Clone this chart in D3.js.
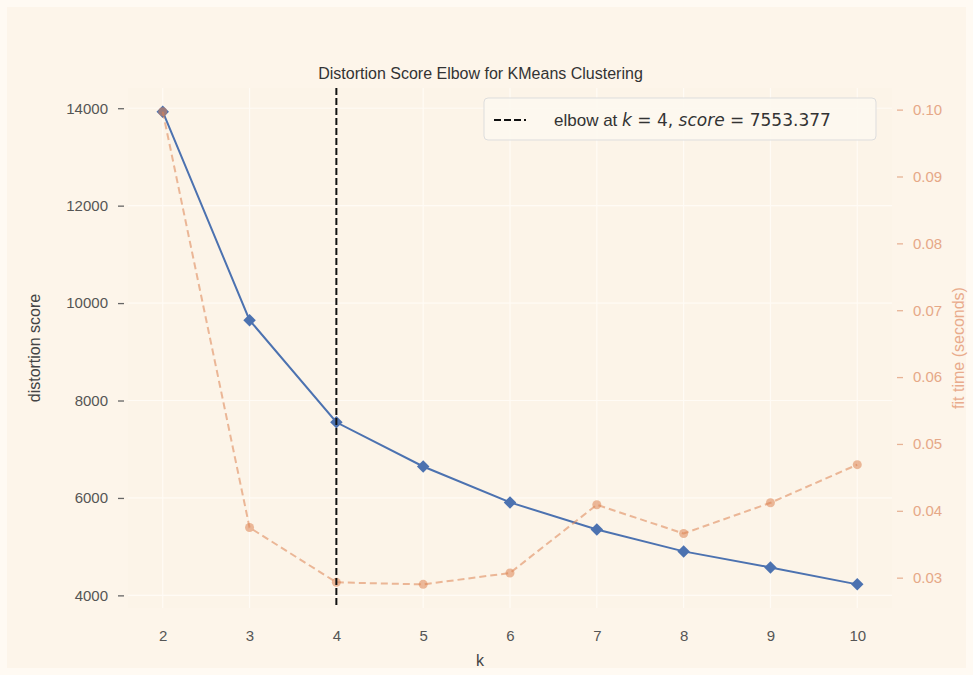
<!DOCTYPE html>
<html>
<head>
<meta charset="utf-8">
<script src="https://cdn.jsdelivr.net/npm/d3@7"></script>
<style>
  html, body { margin: 0; padding: 0; background: #fffaf3; }
  svg { display: block; font-family: "Liberation Sans", Arial, sans-serif; }
</style>
</head>
<body>
<div id="chart"></div>
<script>
// Elbow-Daten
const kValues = [2, 3, 4, 5, 6, 7, 8, 9, 10];
const distortion = [13930, 9650, 7553.377, 6646, 5908, 5354, 4903, 4574, 4226];
const fitTime = [0.0997, 0.0375, 0.0293, 0.0290, 0.0307, 0.0409, 0.0366, 0.0412, 0.0469];
const leftTicks = [4000, 6000, 8000, 10000, 12000, 14000];
const rightTicks = [0.03, 0.04, 0.05, 0.06, 0.07, 0.08, 0.09, 0.10];
const elbowK = 4;
const elbowScore = 7553.377;

const W = 973, H = 675;
const M = { top: 88, right: 81, bottom: 67, left: 128 };

const svg = d3.select("#chart").append("svg")
  .attr("width", W)
  .attr("height", H);

// Hintergrund
svg.append("rect").attr("x", 7).attr("y", 7).attr("width", W - 14).attr("height", H - 14)
  .attr("fill", "#fdf5ea");
svg.append("rect").attr("x", M.left).attr("y", M.top)
  .attr("width", W - M.left - M.right).attr("height", H - M.top - M.bottom)
  .attr("fill", "#fcf4e8");

// Skalen mit 5% Rand wie matplotlib
function padded(ext) {
  const p = (ext[1] - ext[0]) * 0.05;
  return [ext[0] - p, ext[1] + p];
}
const x = d3.scaleLinear().domain(padded(d3.extent(kValues))).range([M.left, W - M.right]);
const yL = d3.scaleLinear().domain(padded(d3.extent(distortion))).range([H - M.bottom, M.top]);
const yR = d3.scaleLinear().domain(padded(d3.extent(fitTime))).range([H - M.bottom, M.top]);

// Gitter
const gGrid = svg.append("g");
gGrid.selectAll(".gx").data(kValues).join("line")
  .attr("x1", d => x(d)).attr("x2", d => x(d))
  .attr("y1", M.top).attr("y2", H - M.bottom)
  .attr("stroke", "#fffbf5").attr("stroke-width", 1.2);
gGrid.selectAll(".gy").data(leftTicks).join("line")
  .attr("x1", M.left).attr("x2", W - M.right)
  .attr("y1", d => yL(d)).attr("y2", d => yL(d))
  .attr("stroke", "#fffbf5").attr("stroke-width", 1.2);

// Achsen
const axisLeft = svg.append("g")
  .attr("transform", `translate(${M.left - 4},0)`)
  .call(d3.axisLeft(yL).tickValues(leftTicks).tickSize(6).tickPadding(10).tickFormat(d3.format("d")));
axisLeft.select(".domain").remove();
axisLeft.selectAll(".tick line").attr("stroke", "#666").attr("stroke-width", 1.3);
axisLeft.selectAll(".tick text").style("font-size", "15px").style("fill", "#555");

const axisRight = svg.append("g")
  .attr("transform", `translate(${W - M.right + 5},0)`)
  .call(d3.axisRight(yR).tickValues(rightTicks).tickSize(6).tickPadding(10).tickFormat(d3.format(".2f")));
axisRight.select(".domain").remove();
axisRight.selectAll(".tick line").attr("stroke", "#e7b396").attr("stroke-width", 1.3);
axisRight.selectAll(".tick text").style("font-size", "15px").style("fill", "#e6a887");

const axisBottom = svg.append("g")
  .attr("transform", `translate(0,${H - M.bottom})`)
  .call(d3.axisBottom(x).tickValues(kValues).tickSize(0).tickPadding(22).tickFormat(d3.format("d")));
axisBottom.select(".domain").remove();
axisBottom.selectAll(".tick text").style("font-size", "15px").style("fill", "#555");

// Achsentitel
svg.append("text")
  .attr("x", W / 2 - 6).attr("y", 79)
  .attr("text-anchor", "middle")
  .style("font-size", "16px").style("fill", "#333")
  .text("Distortion Score Elbow for KMeans Clustering");

svg.append("text")
  .attr("x", x(6) - 30).attr("y", 666)
  .attr("text-anchor", "middle")
  .style("font-size", "16px").style("fill", "#444")
  .text("k");

svg.append("text")
  .attr("transform", `translate(40,${(M.top + H - M.bottom) / 2}) rotate(-90)`)
  .attr("text-anchor", "middle")
  .style("font-size", "16px").style("fill", "#444")
  .text("distortion score");

svg.append("text")
  .attr("transform", `translate(964,${(M.top + H - M.bottom) / 2}) rotate(-90)`)
  .attr("text-anchor", "middle")
  .style("font-size", "16px").style("fill", "#e9ab8c")
  .text("fit time (seconds)");

// Verzerrung (blau)
const pts = kValues.map((k, i) => ({ k, d: distortion[i], t: fitTime[i] }));

svg.append("path")
  .datum(pts)
  .attr("fill", "none")
  .attr("stroke", "#4c72b0")
  .attr("stroke-width", 2)
  .attr("d", d3.line().x(d => x(d.k)).y(d => yL(d.d)));

svg.selectAll(".dmark").data(pts).join("path")
  .attr("transform", d => `translate(${x(d.k)},${yL(d.d)}) rotate(45)`)
  .attr("d", d3.symbol(d3.symbolSquare, 78)())
  .attr("fill", "#4c72b0");

// Fit-Zeit (orange, gestrichelt)
svg.append("path")
  .datum(pts)
  .attr("fill", "none")
  .attr("stroke", "#dd8452")
  .attr("stroke-opacity", 0.55)
  .attr("stroke-width", 2)
  .attr("stroke-dasharray", "7,4")
  .attr("d", d3.line().x(d => x(d.k)).y(d => yR(d.t)));

svg.selectAll(".tmark").data(pts).join("circle")
  .attr("cx", d => x(d.k)).attr("cy", d => yR(d.t))
  .attr("r", 4.5)
  .attr("fill", "#dd8452")
  .attr("fill-opacity", 0.55);

// Elbow-Linie
svg.append("line")
  .attr("x1", x(elbowK)).attr("x2", x(elbowK))
  .attr("y1", M.top).attr("y2", H - M.bottom)
  .attr("stroke", "#111")
  .attr("stroke-width", 2)
  .attr("stroke-dasharray", "7,3");

// Legende
const lg = svg.append("g").attr("transform", "translate(484,98)");
lg.append("rect")
  .attr("width", 392).attr("height", 42).attr("rx", 4)
  .attr("fill", "#fdf8f0").attr("fill-opacity", 0.9)
  .attr("stroke", "#ddd").attr("stroke-width", 1);
lg.append("line")
  .attr("x1", 10).attr("x2", 42).attr("y1", 22).attr("y2", 22)
  .attr("stroke", "#111").attr("stroke-width", 2).attr("stroke-dasharray", "7,3");
const lt = lg.append("text")
  .attr("x", 70).attr("y", 28)
  .style("font-size", "17px").style("fill", "#333");
lt.append("tspan").text("elbow at ");
lt.append("tspan").style("font-style", "italic").style("font-family", "DejaVu Sans").text("k");
lt.append("tspan").style("font-family", "DejaVu Sans").text(` = ${elbowK}, `);
lt.append("tspan").style("font-style", "italic").style("font-family", "DejaVu Sans").text("score");
lt.append("tspan").style("font-family", "DejaVu Sans").text(` = ${elbowScore.toFixed(3)}`);
</script>
</body>
</html>
